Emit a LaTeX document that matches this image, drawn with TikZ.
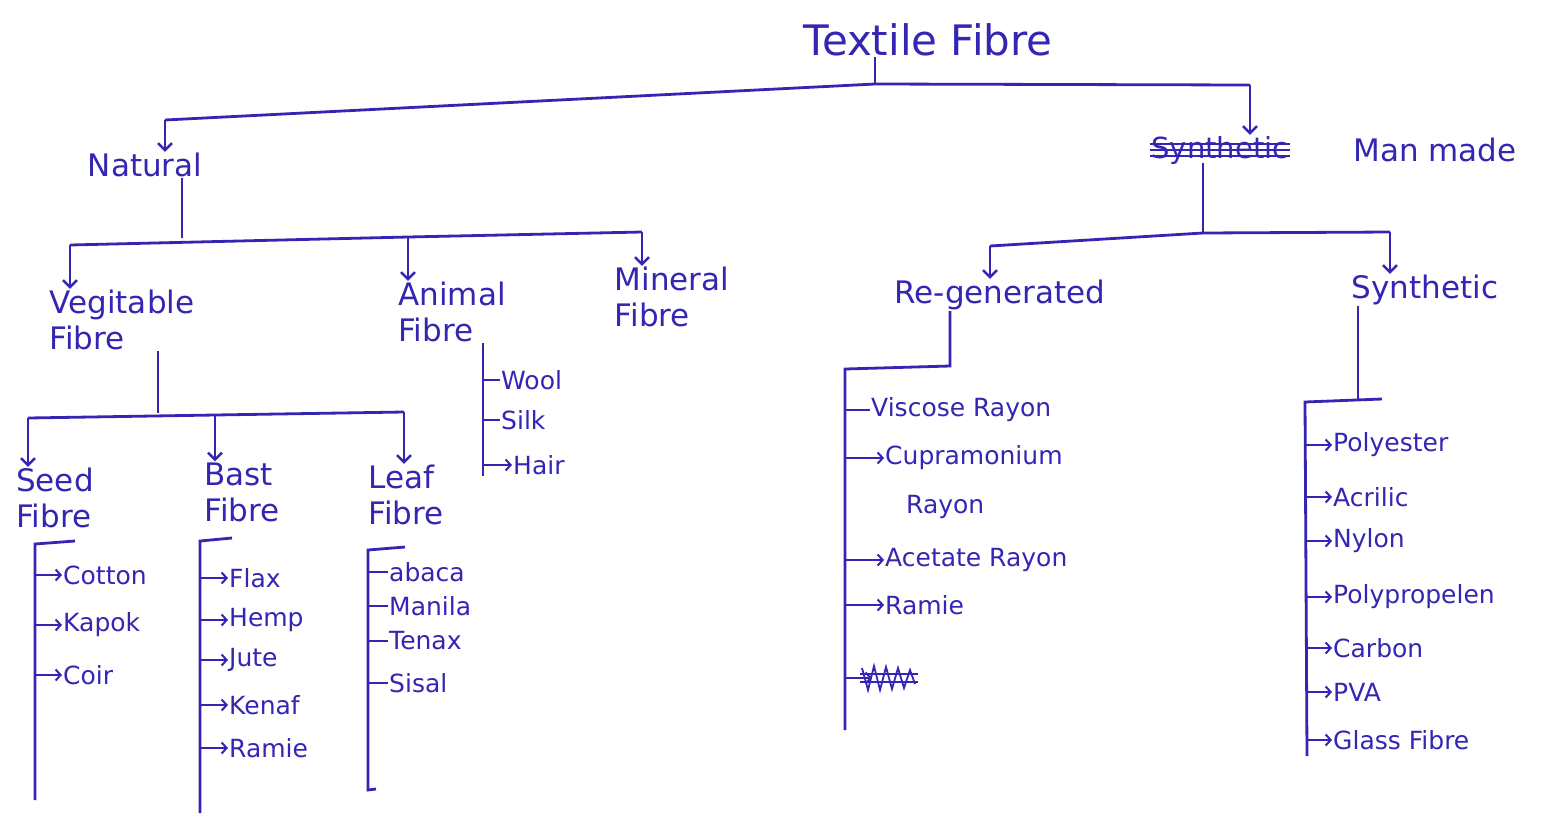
\documentclass[tikz,border=0pt]{standalone}
\usepackage{fontspec}
\setmainfont{DejaVu Sans}
\usetikzlibrary{arrows.meta,calc,positioning}
\definecolor{ink}{RGB}{52,38,178}

\begin{document}
\begin{tikzpicture}[x=1pt,y=-1pt,
    every node/.style={text=ink,inner sep=1pt},
    head/.style={font=\fontsize{31}{36}\selectfont,align=left},
    item/.style={font=\fontsize{25}{30}\selectfont,anchor=west},
    wire/.style={draw=ink,line width=2.8pt},
    tip/.style={wire,-{Straight Barb[length=7pt,width=14pt,line width=2.4pt]}},
    stroke/.style={draw=ink,line width=2.3pt},
    ptr/.style={stroke,-{Straight Barb[length=5pt,width=11pt,line width=2pt]}}]
    \useasboundingbox[fill=white] (0,0) rectangle (1568,815);

    % top level
    \node[font=\fontsize{42}{48}\selectfont] (textile) at (928,40) {Textile Fibre};
    \node[head] (natural) at (145,165) {Natural};
    \node[font=\fontsize{29}{34}\selectfont] (oldsyn) at (1220,150) {Synthetic};
    \node[head] (manmade) at (1435,150) {Man made};
    \coordinate (tj) at (875,84);
    \coordinate (tl) at (165,120);
    \coordinate (tr) at (1250,85);
    \draw[wire] (textile.south -| tj) -- (tj);
    \draw[wire] (tl) -- (tj) -- (tr);
    \draw[tip] (tl) -- (natural.north -| tl);
    \draw[tip] (tr) -- (oldsyn.north -| tr);
    % scratched out word
    \draw[wire] (oldsyn.west) -- (oldsyn.east);
    \draw[stroke] ($(oldsyn.west)+(0,-6)$) -- ($(oldsyn.east)+(0,-6)$);
    \draw[stroke] ($(oldsyn.west)+(0,6)$) -- ($(oldsyn.east)+(0,6)$);

    % natural
    \node[head] (vege) at (122,320) {Vegitable\\ Fibre};
    \node[head] (animal) at (452,312) {Animal\\ Fibre};
    \node[head] (mineral) at (672,297) {Mineral\\ Fibre};
    \coordinate (nj) at (182,238);
    \coordinate (nl) at (70,245);
    \coordinate (na) at (408,237);
    \coordinate (nr) at (642,232);
    \draw[wire] (natural.south -| nj) -- (nj);
    \draw[wire] (nl) -- (na) -- (nr);
    \draw[tip] (nl) -- (vege.north -| nl);
    \draw[tip] (na) -- (animal.north -| na);
    \draw[tip] (nr) -- (mineral.north -| nr);

    % vegitable
    \node[head] (seed) at (55,498) {Seed\\ Fibre};
    \node[head] (bast) at (242,492) {Bast\\ Fibre};
    \node[head] (leaf) at (406,495) {Leaf\\ Fibre};
    \coordinate (vj) at (158,413);
    \coordinate (vl) at (28,418);
    \coordinate (vb) at (215,415);
    \coordinate (vr) at (404,412);
    \draw[wire] (vege.south -| vj) -- (vj);
    \draw[wire] (vl) -- (vb) -- (vr);
    \draw[tip] (vl) -- (seed.north -| vl);
    \draw[tip] (vb) -- (bast.north -| vb);
    \draw[tip] (vr) -- (leaf.north -| vr);

    % seed fibre
    \coordinate (sbt) at (75,541);
    \coordinate (sb0) at (35,544);
    \coordinate (sb1) at (35,800);
    \draw[wire] (sbt) -- (sb0) -- (sb1);
    \foreach \nm/\txt/\y in {cotton/Cotton/575, kapok/Kapok/625, coir/Coir/675} {
        \node[item] (\nm) at (62,\y) {\txt};
        \coordinate (\nm-s) at (35,\y);
        \draw[ptr] (\nm-s) -- (\nm);
    }

    % bast fibre
    \coordinate (bbt) at (232,538);
    \coordinate (bb0) at (200,541);
    \coordinate (bb1) at (200,813);
    \draw[wire] (bbt) -- (bb0) -- (bb1);
    \foreach \nm/\txt/\y in {flax/Flax/578, hemp/Hemp/620, jute/Jute/660, kenaf/Kenaf/705, ramie/Ramie/748} {
        \node[item] (\nm) at (228,\y) {\txt};
        \coordinate (\nm-s) at (200,\y);
        \draw[ptr] (\nm-s) -- (\nm);
    }

    % leaf fibre
    \coordinate (lbt) at (405,547);
    \coordinate (lb0) at (368,550);
    \coordinate (lb1) at (368,790);
    \coordinate (lbe) at (376,789);
    \draw[wire] (lbt) -- (lb0) -- (lb1) -- (lbe);
    \foreach \nm/\txt/\y in {abaca/abaca/572, manila/Manila/606, tenax/Tenax/641, sisal/Sisal/683} {
        \node[item] (\nm) at (388,\y) {\txt};
        \coordinate (\nm-s) at (368,\y);
        \draw[stroke] (\nm-s) -- (\nm);
    }

    % animal fibre
    \coordinate (ab0) at (483,352);
    \coordinate (ab1) at (483,476);
    \draw[wire] (animal.south -| ab0) -- (ab1);
    \foreach \nm/\txt/\y in {wool/Wool/380, silk/Silk/420} {
        \node[item] (\nm) at (500,\y) {\txt};
        \coordinate (\nm-s) at (483,\y);
        \draw[stroke] (\nm-s) -- (\nm);
    }
    \node[item] (hair) at (512,465) {Hair};
    \coordinate (hair-s) at (483,465);
    \draw[ptr] (hair-s) -- (hair);

    % man made
    \node[head] (regen) at (1000,295) {Re-generated};
    \node[head] (synth) at (1425,290) {Synthetic};
    \coordinate (mj) at (1203,233);
    \coordinate (ml) at (990,246);
    \coordinate (mr) at (1390,232);
    \draw[wire] (manmade.south -| mj) -- (mj);
    \draw[wire] (ml) -- (mj) -- (mr);
    \draw[tip] (ml) -- (regen.north -| ml);
    \draw[tip] (mr) -- (synth.north -| mr);

    % regenerated
    \coordinate (rj) at (950,366);
    \coordinate (rb0) at (845,369);
    \coordinate (rb1) at (845,730);
    \draw[wire] (regen.south -| rj) -- (rj) -- (rb0) -- (rb1);
    \node[item] (viscose) at (870,410) {Viscose Rayon};
    \coordinate (viscose-s) at (845,410);
    \draw[stroke] (viscose-s) -- (viscose);
    \foreach \nm/\txt/\y in {cupra/Cupramonium/458, acetate/Acetate Rayon/560, reramie/Ramie/605} {
        \node[item] (\nm) at (884,\y) {\txt};
        \coordinate (\nm-s) at (845,\y);
        \draw[ptr] (\nm-s) -- (\nm);
    }
    \node[item] (cuprb) at (905,507) {Rayon};
    % scribbled entry
    \coordinate (scr-s) at (845,678);
    \coordinate (scr) at (872,678);
    \draw[ptr] (scr-s) -- (scr);
    \draw[stroke,line width=1.8pt] (862,668) -- (868,690) -- (874,666) -- (880,690) -- (886,667) -- (892,689) -- (898,668) -- (904,688) -- (910,670) -- (915,684);
    \draw[stroke,line width=1.8pt] (860,674) -- (918,674);
    \draw[stroke,line width=1.8pt] (860,682) -- (918,682);

    % synthetic
    \coordinate (pj) at (1358,400);
    \coordinate (pt) at (1382,399);
    \coordinate (pb0) at (1305,402);
    \coordinate (pb1) at (1307,756);
    \draw[wire] (synth.south -| pj) -- (pj);
    \draw[wire] (pt) -- (pb0) -- (pb1);
    \foreach \nm/\txt/\y in {poly/Polyester/445, acril/Acrilic/497, nylon/Nylon/541, pp/Polypropelen/597, carbon/Carbon/648, pva/PVA/692, glass/Glass Fibre/740} {
        \node[item] (\nm) at (1332,\y) {\txt};
        \coordinate (\nm-s) at (1306,\y);
        \draw[ptr] (\nm-s) -- (\nm);
    }
\end{tikzpicture}
\end{document}
